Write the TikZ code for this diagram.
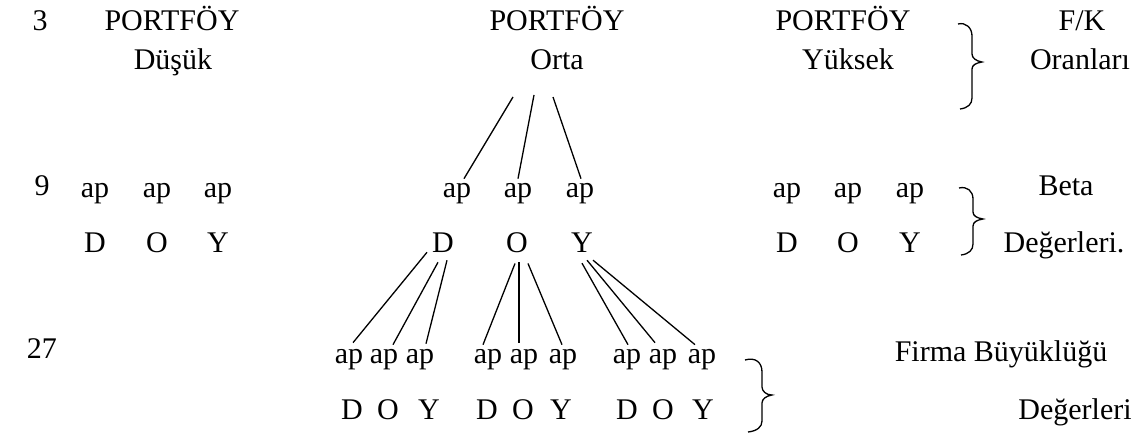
\documentclass[tikz,border=0pt]{standalone}
\usepackage{fontspec}
\setmainfont{Liberation Serif}
\begin{document}
\begin{tikzpicture}[x=1pt,y=-1pt,
  t/.style={inner sep=0pt, anchor=base, font=\fontsize{30}{32}\selectfont},
  ln/.style={line width=1.3pt},
  br/.style={line width=1.3pt}]
\useasboundingbox (0,0) rectangle (1142,433);
% row 1
\node[t] (n3) at (40,31) {3};
\node[t] (p1) at (172,31) {PORTFÖY};
\node[t] (p2) at (557,31) {PORTFÖY};
\node[t] (p3) at (843,31) {PORTFÖY};
\node[t] (fk) at (1082,31) {F/K};
% row 2
\node[t] (dus) at (173,70) {Düşük};
\node[t] (orta) at (557,70) {Orta};
\node[t] (yuk) at (848,70) {Yüksek};
\node[t] (oran) at (1080,70) {Oranları};
% row 3
\node[t] (n9) at (42,195) {9};
\node[t] (l1) at (95,197) {ap};
\node[t] (l2) at (157,197) {ap};
\node[t] (l3) at (218,197) {ap};
\node[t] (m1) at (457,197) {ap};
\node[t] (m2) at (518,197) {ap};
\node[t] (m3) at (580,197) {ap};
\node[t] (r1) at (787,197) {ap};
\node[t] (r2) at (848,197) {ap};
\node[t] (r3) at (910,197) {ap};
\node[t] (beta) at (1066,195) {Beta};
% row 4
\node[t] (lD) at (95,252) {D};
\node[t] (lO) at (157,252) {O};
\node[t] (lY) at (218,252) {Y};
\node[t] (mD) at (443,252) {D};
\node[t] (mO) at (517,252) {O};
\node[t] (mY) at (582,252) {Y};
\node[t] (rD) at (787,252) {D};
\node[t] (rO) at (848,252) {O};
\node[t] (rY) at (910,252) {Y};
\node[t] (deg1) at (1064,252) {Değerleri.};
% row 5
\node[t] (n27) at (42,358) {27};
\node[t] (a1) at (349,363) {ap};
\node[t] (a2) at (384,363) {ap};
\node[t] (a3) at (420,363) {ap};
\node[t] (a4) at (488,363) {ap};
\node[t] (a5) at (524,363) {ap};
\node[t] (a6) at (563,363) {ap};
\node[t] (a7) at (627,363) {ap};
\node[t] (a8) at (663,363) {ap};
\node[t] (a9) at (702,363) {ap};
\node[t] (firma) at (1001,361) {Firma Büyüklüğü};
% row 6
\node[t] (b1) at (352,419) {D};
\node[t] (b2) at (388,419) {O};
\node[t] (b3) at (429,419) {Y};
\node[t] (b4) at (487,419) {D};
\node[t] (b5) at (523,419) {O};
\node[t] (b6) at (561,419) {Y};
\node[t] (b7) at (627,419) {D};
\node[t] (b8) at (663,419) {O};
\node[t] (b9) at (703,419) {Y};
\node[t] (deg2) at (1075,419) {Değerleri};
% upper connectors
\draw[ln] ([xshift=-44pt,yshift=-27pt]orta.base) -- ([xshift=7pt,yshift=4pt]m1.north);
\draw[ln] ([xshift=-23pt,yshift=-25pt]orta.base) -- ([yshift=4pt]m2.north);
\draw[ln] ([xshift=-4pt,yshift=-27pt]orta.base) -- ([xshift=1pt,yshift=4pt]m3.north);
% lower connectors
\draw[ln] ([xshift=-16pt]mD.south) -- ([xshift=4pt,yshift=6pt]a1.north);
\draw[ln] ([xshift=-5pt,yshift=-10pt]mD.south) -- ([xshift=9pt,yshift=4pt]a2.north);
\draw[ln] ([xshift=4pt,yshift=-8pt]mD.south) -- ([xshift=6pt,yshift=5pt]a3.north);
\draw[ln] ([xshift=-2pt,yshift=-11pt]mO.south) -- ([xshift=-5pt,yshift=4pt]a4.north);
\draw[ln] ([xshift=2pt,yshift=-10pt]mO.south) -- ([xshift=-5pt,yshift=6pt]a5.north);
\draw[ln] ([xshift=11pt,yshift=-11pt]mO.south) -- ([xshift=-1pt,yshift=4pt]a6.north);
\draw[ln] ([yshift=-11pt]mY.south) -- ([xshift=1pt,yshift=4pt]a7.north);
\draw[ln] ([xshift=5pt,yshift=-8pt]mY.south) -- ([xshift=-8pt,yshift=6pt]a8.north);
\draw[ln] ([xshift=11pt,yshift=-8pt]mY.south) -- ([xshift=-7pt,yshift=4pt]a9.north);
% braces
\draw[br] (958,24) .. controls (966,22) and (972,28) .. (972,36) -- (972,54)
  .. controls (972,58) and (976,61) .. (982,62) .. controls (976,63) and (972,65) .. (972,69)
  -- (972,98) .. controls (972,104) and (968,108) .. (960,109);
\draw[br] (959,188) .. controls (967,186) and (973,191) .. (973,199) -- (973,212)
  .. controls (973,216) and (977,218) .. (983,219) .. controls (977,220) and (973,222) .. (973,226)
  -- (973,244) .. controls (973,250) and (969,254) .. (961,255);
\draw[br] (745,360) .. controls (755,357) and (762,362) .. (762,372) -- (762,387)
  .. controls (762,391) and (766,395) .. (772,395) .. controls (766,396) and (762,399) .. (762,403)
  -- (762,421) .. controls (762,427) and (757,431) .. (748,432);
\end{tikzpicture}
\end{document}
